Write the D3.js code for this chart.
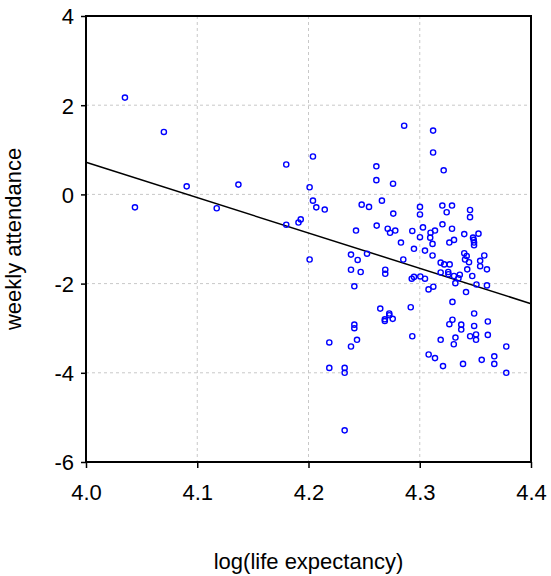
<!DOCTYPE html>
<html>
<head>
<meta charset="utf-8">
<script src="https://cdn.jsdelivr.net/npm/d3@7"></script>
<style>
  body { margin: 0; background: white; }
  svg text { font-family: "Liberation Sans", Arial, sans-serif; }
</style>
</head>
<body>
<div id="container"></div>
<script>
// log(life expectancy) per country
let lifeExp = [
  4.035, 4.070, 4.044, 4.0905, 4.1175, 4.137, 4.180, 4.180, 4.191, 4.193,
  4.201, 4.204, 4.204, 4.207, 4.201,
  4.286, 4.312, 4.312, 4.3215, 4.261, 4.261, 4.276,
  4.2146, 4.2478, 4.2544, 4.266, 4.3002, 4.3002, 4.3203, 4.329, 4.3242, 4.3452, 4.3452, 4.2762,
  4.2427, 4.2613, 4.2712, 4.2733, 4.278, 4.2933, 4.3029, 4.3002, 4.3097, 4.3137, 4.3204, 4.329, 4.34, 4.3528,
  4.3308, 4.3094, 4.3115, 4.3266, 4.3479, 4.3485, 4.3488, 4.3488,
  4.2831, 4.2948, 4.3047, 4.3115, 4.2382, 4.2442, 4.2526, 4.2852,
  4.2382, 4.2469, 4.269, 4.269, 4.2412, 4.2928, 4.2948, 4.3005, 4.3047, 4.3079, 4.3122,
  4.3188, 4.322, 4.3269, 4.3188, 4.3256, 4.3258, 4.3308, 4.332, 4.336, 4.3348,
  4.34, 4.3422, 4.3407, 4.3443, 4.3427, 4.3472, 4.3416, 4.351, 4.3604, 4.358, 4.3543, 4.3543, 4.3604,
  4.3294, 4.2645, 4.2726, 4.2726, 4.2686, 4.2686, 4.2757, 4.2919, 4.2412, 4.2412,
  4.2187, 4.2382, 4.2436, 4.2933, 4.2187, 4.2325, 4.2325, 4.2325,
  4.308, 4.3137, 4.3209, 4.3266, 4.3294, 4.3188, 4.3321, 4.3306, 4.3373, 4.3373,
  4.3489, 4.3489, 4.3453, 4.3506, 4.3506, 4.3612, 4.3612, 4.3389, 4.3557, 4.367, 4.367,
  4.3778, 4.3778
];

// weekly attendance per country
let attendance = [
  2.17, 1.40, -0.29, 0.18, -0.31, 0.22, 0.67, -0.68, -0.63, -0.56,
  0.16, 0.85, -0.14, -0.29, -1.46,
  1.54, 1.43, 0.94, 0.54, 0.63, 0.32, 0.24,
  -0.34, -0.23, -0.28, -0.14, -0.28, -0.45, -0.25, -0.25, -0.40, -0.35, -0.51, -0.43,
  -0.81, -0.70, -0.77, -0.86, -0.81, -0.82, -0.74, -0.96, -0.86, -0.81, -0.67, -0.77, -0.89, -0.88,
  -1.02, -0.97, -1.11, -1.08, -0.97, -1.02, -1.08, -1.14,
  -1.08, -1.22, -1.26, -1.37, -1.35, -1.47, -1.33, -1.46,
  -1.69, -1.74, -1.69, -1.78, -2.06, -1.89, -1.85, -1.84, -1.89, -2.13, -2.07,
  -1.53, -1.57, -1.57, -1.75, -1.74, -1.79, -1.83, -1.99, -1.80, -1.88,
  -1.32, -1.38, -1.46, -1.52, -1.68, -1.83, -2.19, -2.02, -2.04, -1.37, -1.49, -1.61, -1.68,
  -2.41, -2.56, -2.67, -2.71, -2.80, -2.84, -2.79, -2.53, -2.92, -3.00,
  -3.32, -3.41, -3.26, -3.18, -3.89, -3.89, -4.00, -5.29,
  -3.59, -3.67, -3.85, -2.91, -2.81, -3.26, -3.21, -3.36, -2.92, -3.03,
  -2.67, -2.95, -3.18, -3.14, -3.26, -2.85, -3.15, -3.80, -3.71, -3.63, -3.80,
  -3.41, -4.00
];

// fitted regression line end points
let fitX = [4.0, 4.4];
let fitY = [0.72, -2.45];

let xTicks = [4.0, 4.1, 4.2, 4.3, 4.4];
let yTicks = [-6, -4, -2, 0, 2, 4];

let w = 551;
let h = 576;
let padL = 86, padR = 531, padT = 16, padB = 462;

let viz = d3.select("#container").append("svg")
    .attr("width", w)
    .attr("height", h)
    .style("background-color", "white");

let x = d3.scaleLinear().domain([4.0, 4.4]).range([padL, padR]);
let y = d3.scaleLinear().domain([-6, 4]).range([padB, padT]);

// grid
viz.append("g").selectAll("line").data(xTicks.slice(1, -1)).enter()
  .append("line")
    .attr("x1", d => x(d)).attr("x2", d => x(d))
    .attr("y1", padT).attr("y2", padB)
    .attr("stroke", "#c8c8c8")
    .attr("stroke-dasharray", "3,3");

viz.append("g").selectAll("line").data(yTicks.slice(1, -1)).enter()
  .append("line")
    .attr("x1", padL).attr("x2", padR)
    .attr("y1", d => y(d)).attr("y2", d => y(d))
    .attr("stroke", "#c8c8c8")
    .attr("stroke-dasharray", "3,3");

// fitted line
viz.append("line")
    .attr("x1", x(fitX[0])).attr("y1", y(fitY[0]))
    .attr("x2", x(fitX[1])).attr("y2", y(fitY[1]))
    .attr("stroke", "black")
    .attr("stroke-width", 1.5);

// points
viz.append("g").selectAll("circle").data(lifeExp).enter()
  .append("circle")
    .attr("cx", d => x(d))
    .attr("cy", (d, i) => y(attendance[i]))
    .attr("r", 2.6)
    .attr("fill", "none")
    .attr("stroke", "#0000ff")
    .attr("stroke-width", 1.4);

// frame
viz.append("rect")
    .attr("x", padL).attr("y", padT)
    .attr("width", padR - padL).attr("height", padB - padT)
    .attr("fill", "none")
    .attr("stroke", "black")
    .attr("stroke-width", 2);

// axes
let xAxis = viz.append("g")
    .attr("transform", "translate(0," + padB + ")")
    .call(d3.axisBottom(x).tickValues(xTicks).tickFormat(d3.format(".1f")).tickSize(6).tickSizeOuter(0));
let yAxis = viz.append("g")
    .attr("transform", "translate(" + padL + ",0)")
    .call(d3.axisLeft(y).tickValues(yTicks).tickFormat(d => String(d)).tickSize(5).tickSizeOuter(0));

[xAxis, yAxis].forEach(function(a) {
  a.select(".domain").remove();
  a.selectAll(".tick line").attr("stroke", "black").attr("stroke-width", 1.5);
  a.selectAll("text").attr("fill", "black").style("font-size", "22px")
    .style("font-family", "Liberation Sans, Arial, sans-serif");
});
xAxis.selectAll("text").attr("y", 38).attr("dy", null);
yAxis.selectAll("text").attr("x", -12).attr("dy", "0.36em");

// titles
viz.append("text")
    .attr("x", (padL + padR) / 2)
    .attr("y", 569)
    .attr("text-anchor", "middle")
    .style("font-size", "22px")
    .text("log(life expectancy)");

viz.append("text")
    .attr("transform", "translate(21," + ((padT + padB) / 2) + ") rotate(-90)")
    .attr("text-anchor", "middle")
    .style("font-size", "22px")
    .text("weekly attendance");
</script>
</body>
</html>
